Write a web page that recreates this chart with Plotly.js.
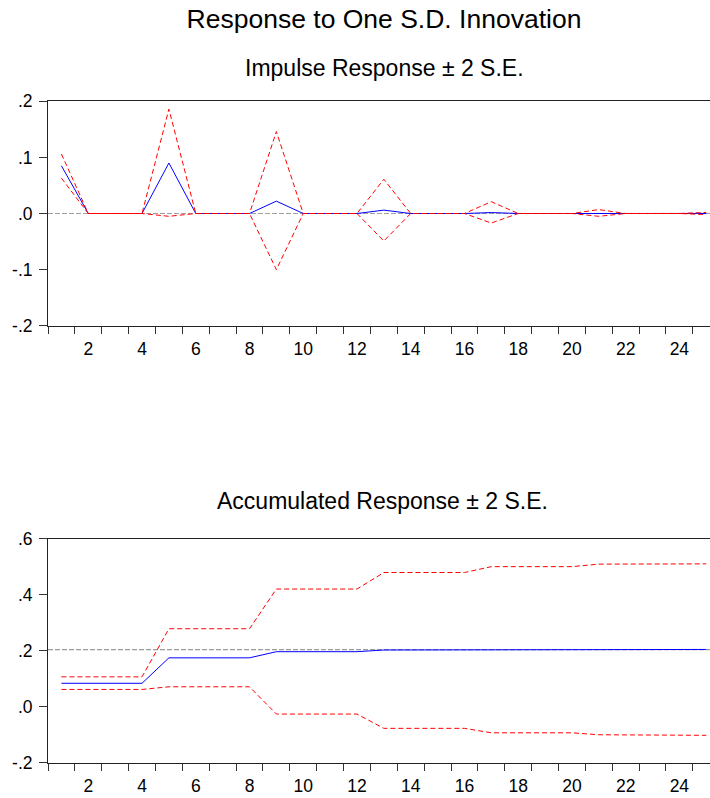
<!DOCTYPE html>
<html>
<head>
<meta charset="utf-8">
<script src="https://cdn.plot.ly/plotly-3.0.1.min.js"></script>
<style>html,body{margin:0;padding:0;background:#fff;}#chart{width:710px;height:798px;}</style>
</head>
<body>
<div id="chart"></div>
<script>
// ---- data ----
const periods = [1,2,3,4,5,6,7,8,9,10,11,12,13,14,15,16,17,18,19,20,21,22,23,24,25];

const impulse      = [0.085,0,0,0,0.090,0,0,0,0.022,0,0,0,0.006,0,0,0,0.0017,0,0,0,0.0005,0,0,0,0.0001];
const impulseUpper = [0.106,0,0,0,0.186,0,0,0,0.146,0,0,0,0.061,0,0,0,0.021,0,0,0,0.007,0,0,0,0.002];
const impulseLower = [0.063,0,0,0,-0.005,0,0,0,-0.100,0,0,0,-0.049,0,0,0,-0.017,0,0,0,-0.005,0,0,0,-0.002];

const accum      = [0.084,0.084,0.084,0.084,0.175,0.175,0.175,0.175,0.197,0.197,0.197,0.197,0.203,0.203,0.203,0.203,0.2045,0.2045,0.2045,0.2045,0.205,0.205,0.205,0.205,0.205];
const accumUpper = [0.107,0.107,0.107,0.107,0.279,0.279,0.279,0.279,0.421,0.421,0.421,0.421,0.480,0.480,0.480,0.480,0.501,0.501,0.501,0.501,0.510,0.510,0.510,0.510,0.511];
const accumLower = [0.062,0.062,0.062,0.062,0.0715,0.0715,0.0715,0.0715,-0.026,-0.026,-0.026,-0.026,-0.077,-0.077,-0.077,-0.077,-0.093,-0.093,-0.093,-0.093,-0.100,-0.100,-0.100,-0.100,-0.102];

const impulseRef = 0;
const accumRef = 0.204;

const xTickVals = [2,4,6,8,10,12,14,16,18,20,22,24];
const xTickText = ['2','4','6','8','10','12','14','16','18','20','22','24'];
const xBoundaries = [0.5,1.5,2.5,3.5,4.5,5.5,6.5,7.5,8.5,9.5,10.5,11.5,12.5,13.5,14.5,15.5,16.5,17.5,18.5,19.5,20.5,21.5,22.5,23.5,24.5];

const y1TickVals = [-0.2,-0.1,0,0.1,0.2];
const y1TickText = ['-.2','-.1','.0','.1','.2'];
const y2TickVals = [-0.2,0,0.2,0.4,0.6];
const y2TickText = ['-.2','.0','.2','.4','.6'];

const titleMain = 'Response to One S.D. Innovation';
const titleTop = 'Impulse Response \u00B1 2 S.E.';
const titleBottom = 'Accumulated Response \u00B1 2 S.E.';

// ---- styles ----
const FONT = 'Liberation Sans, Arial, sans-serif';
const blueLine = {color:'#0000ff', width:1};
const redLine = {color:'#ff0000', width:1, dash:'5px,3px'};

const traces = [
  {x:periods, y:impulse, xaxis:'x', yaxis:'y', mode:'lines', line:blueLine, hoverinfo:'skip'},
  {x:periods, y:impulseUpper, xaxis:'x', yaxis:'y', mode:'lines', line:redLine, hoverinfo:'skip'},
  {x:periods, y:impulseLower, xaxis:'x', yaxis:'y', mode:'lines', line:redLine, hoverinfo:'skip'},
  {x:periods, y:accum, xaxis:'x2', yaxis:'y2', mode:'lines', line:blueLine, hoverinfo:'skip'},
  {x:periods, y:accumUpper, xaxis:'x2', yaxis:'y2', mode:'lines', line:redLine, hoverinfo:'skip'},
  {x:periods, y:accumLower, xaxis:'x2', yaxis:'y2', mode:'lines', line:redLine, hoverinfo:'skip'}
];

function xAxis(anchor){
  return {
    anchor: anchor, domain:[0,1], range:[0.5,25.14],
    showline:true, linecolor:'#222', linewidth:1, mirror:true,
    showgrid:false, zeroline:false,
    tickmode:'array', tickvals:xTickVals, ticktext:xTickText,
    ticks:'outside', ticklen:7, tickcolor:'rgba(0,0,0,0)',
    tickfont:{family:FONT, size:17.5, color:'#000'},
    minor:{tickmode:'array', tickvals:xBoundaries, ticks:'outside', ticklen:7, tickwidth:1, tickcolor:'#333', showgrid:false}
  };
}
function yAxis(anchor, domain, range, vals, text){
  return {
    anchor: anchor, domain:domain, range:range,
    showline:true, linecolor:'#222', linewidth:1, mirror:false,
    showgrid:false, zeroline:false,
    tickmode:'array', tickvals:vals, ticktext:text,
    ticks:'outside', ticklen:8, tickwidth:1, tickcolor:'#333',
    ticklabelstandoff:3,
    tickfont:{family:FONT, size:17.5, color:'#000'}
  };
}

const layout = {
  width:710, height:798,
  margin:{l:48, r:0, t:0, b:0},
  paper_bgcolor:'#fff', plot_bgcolor:'#fff',
  showlegend:false,
  title:{text:titleMain, font:{family:FONT, size:26.5, color:'#000'}, xref:'container', x:384/710, xanchor:'center', yref:'container', y:1-18.5/798, yanchor:'middle'},
  xaxis: xAxis('y'),
  yaxis: yAxis('x', [0.5918,0.8731], [-0.2,0.2], y1TickVals, y1TickText),
  xaxis2: xAxis('y2'),
  yaxis2: yAxis('x2', [0.0442,0.3246], [-0.2,0.6], y2TickVals, y2TickText),
  annotations:[
    {text:titleTop, xref:'paper', yref:'paper', x:(384-48)/662, y:1-67.5/798, xanchor:'center', yanchor:'middle', showarrow:false, font:{family:FONT, size:23, color:'#000'}},
    {text:titleBottom, xref:'paper', yref:'paper', x:(382-48)/662, y:1-501/798, xanchor:'center', yanchor:'middle', showarrow:false, font:{family:FONT, size:23, color:'#000'}}
  ],
  shapes:[
    {type:'line', xref:'x domain', yref:'y', x0:0, x1:1, y0:impulseRef, y1:impulseRef, layer:'below', line:{color:'#a0a0a0', width:1, dash:'5px,2px'}},
    {type:'line', xref:'x2 domain', yref:'y2', x0:0, x1:1, y0:accumRef, y1:accumRef, layer:'below', line:{color:'#808080', width:1, dash:'5px,2px'}}
  ]
};

Plotly.newPlot('chart', traces, layout, {displayModeBar:false, staticPlot:true});
</script>
</body>
</html>
